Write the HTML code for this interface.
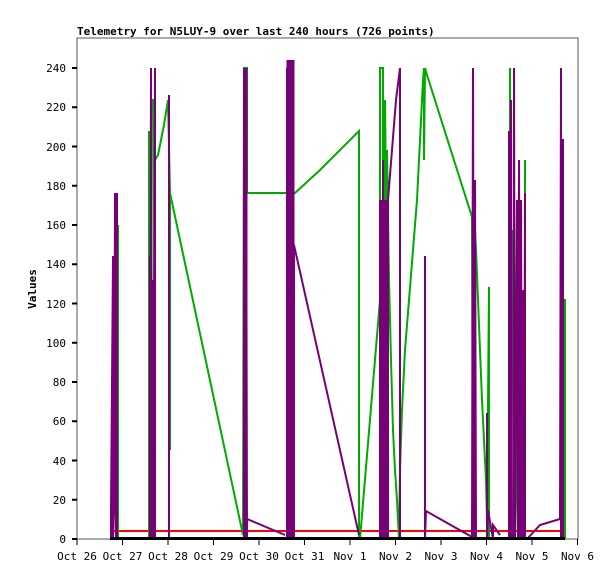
<!DOCTYPE html>
<html><head><style>
html,body{margin:0;padding:0;background:#fff;}
svg text{font-family:"DejaVu Sans Mono","Liberation Mono",monospace;}
</style></head><body>
<svg width="615" height="579" xmlns="http://www.w3.org/2000/svg">
<rect width="615" height="579" fill="#fff"/>
<text x="77" y="35" font-size="11" font-weight="bold" fill="#000">Telemetry for N5LUY-9 over last 240 hours (726 points)</text>
<rect x="77" y="38" width="501" height="501" fill="none" stroke="#555" stroke-width="1"/>
<g stroke="#000" stroke-width="2">
<line x1="72" y1="539" x2="77" y2="539"/><line x1="72" y1="499.75" x2="77" y2="499.75"/><line x1="72" y1="460.5" x2="77" y2="460.5"/><line x1="72" y1="421.25" x2="77" y2="421.25"/><line x1="72" y1="382" x2="77" y2="382"/><line x1="72" y1="342.75" x2="77" y2="342.75"/><line x1="72" y1="303.5" x2="77" y2="303.5"/><line x1="72" y1="264.25" x2="77" y2="264.25"/><line x1="72" y1="225" x2="77" y2="225"/><line x1="72" y1="185.75" x2="77" y2="185.75"/><line x1="72" y1="146.5" x2="77" y2="146.5"/><line x1="72" y1="107.25" x2="77" y2="107.25"/><line x1="72" y1="68" x2="77" y2="68"/>
</g>
<g font-size="11" text-anchor="end" fill="#000">
<text x="66" y="543">0</text><text x="66" y="504">20</text><text x="66" y="465">40</text><text x="66" y="425">60</text><text x="66" y="386">80</text><text x="66" y="347">100</text><text x="66" y="308">120</text><text x="66" y="268">140</text><text x="66" y="229">160</text><text x="66" y="190">180</text><text x="66" y="151">200</text><text x="66" y="111">220</text><text x="66" y="72">240</text>
</g>
<text x="36" y="289" font-size="11" font-weight="bold" text-anchor="middle" transform="rotate(-90 36 289)">Values</text>
<g stroke="#000" stroke-width="1">
<line x1="77" y1="539" x2="77" y2="545"/><line x1="122.5" y1="539" x2="122.5" y2="545"/><line x1="168" y1="539" x2="168" y2="545"/><line x1="213.5" y1="539" x2="213.5" y2="545"/><line x1="259" y1="539" x2="259" y2="545"/><line x1="304.5" y1="539" x2="304.5" y2="545"/><line x1="350" y1="539" x2="350" y2="545"/><line x1="395.5" y1="539" x2="395.5" y2="545"/><line x1="441" y1="539" x2="441" y2="545"/><line x1="486.5" y1="539" x2="486.5" y2="545"/><line x1="532" y1="539" x2="532" y2="545"/><line x1="577.5" y1="539" x2="577.5" y2="545"/>
</g>
<g font-size="11" text-anchor="middle" fill="#000">
<text x="77" y="560">Oct 26</text><text x="122.5" y="560">Oct 27</text><text x="168" y="560">Oct 28</text><text x="213.5" y="560">Oct 29</text><text x="259" y="560">Oct 30</text><text x="304.5" y="560">Oct 31</text><text x="350" y="560">Nov 1</text><text x="395.5" y="560">Nov 2</text><text x="441" y="560">Nov 3</text><text x="486.5" y="560">Nov 4</text><text x="532" y="560">Nov 5</text><text x="577.5" y="560">Nov 6</text>
</g>
<line x1="110" y1="531" x2="565" y2="531" stroke="#f00" stroke-width="2"/>
<g fill="none" stroke="#00aa00" stroke-width="2">
<polyline points="118,539 118,225 118,539"/>
<polyline points="149,539 149,131 150,539 152,100 154,100 154,539 155,500 155,160 158,155 161,140 164,125 168,100 170,193 170,450 170,193 243,535 244,68 245,68 245,539 246,68 247,68 247,193 288,193 288,539 290,193 295,193 320,170 359,131 359,539 360,539 380,300 380,68 383,68 383,539 384,300 385,100 386,200 387,150 389,280 391,360 393,430 395,470 397,500 399,539 400,470 402,410 405,350 409,300 413,250 417,200 420,140 422,100 423,80 424,68 424,160 425,68 427,75 472,217 473,539 474,210 476,250 478,300 480,350 482,400 484,440 486,480 487,520 489,287 489,539 510,539 510,68 511,539 513,230 515,539 517,420 518,539 519,330 521,539 525,420 525,160 525,539 563,539 564,300 565,300 565,539"/>
</g>
<g fill="#770077">
<rect x="286.5" y="60" width="8" height="479"/>
<rect x="380" y="200" width="9" height="339"/>
<rect x="243.5" y="68" width="4" height="471"/>
<rect x="509" y="200" width="3" height="339"/>
</g>
<g fill="none" stroke="#770077" stroke-width="2">
<polyline points="111,539 111,510 113,256 113,539 114,510 115,193 116,539 117,193 117,539"/>
<polyline points="150,539 150,256 150,539 151,68 152,539 152,400 153,539 153,280 154,539 155,68 155,539"/>
<polyline points="169,539 169,95 169,539"/>
<polyline points="244,539 244,68 245,539 246,68 247,539 247,519 285,535"/>
<polyline points="287,539 287,68 289,539 289,60 290,539 291,68 292,539 293,68 294,539 294,245 359,535"/>
<polyline points="380,539 380,200 382,539 383,160 384,539 385,300 386,539 387,210 388,539 388,200 396,100 400,68 400,539"/>
<polyline points="425,539 425,256 425,539 426,511 472,537 473,68 474,539 475,180 476,539"/>
<polyline points="487,539 487,413 487,539 488,510 493,539 493,525 500,535"/>
<polyline points="509,539 509,131 510,539 511,100 512,539 514,539 514,68 515,539 517,200 518,539 519,160 520,539 521,200 522,539 523,290 524,539 525,193 525,539 527,539 540,525 560,519 561,68 561,539 563,139 563,539"/>
</g>
<line x1="110" y1="538.5" x2="565" y2="538.5" stroke="#000" stroke-width="3"/>
</svg>
</body></html>
